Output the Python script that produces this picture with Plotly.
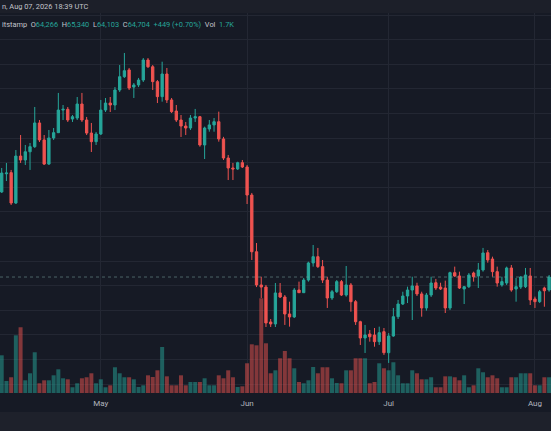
import pandas as pd
import plotly.graph_objects as go

# daily candles, Apr 10 .. Aug 4
opens = [71620, 73100, 73190, 70720, 74540, 74220, 74890, 75300, 77230, 75850,
         73890, 76010, 76440, 78280, 78340, 77550, 77630, 78770, 77470, 76410,
         75710, 76330, 78280, 78850, 78690, 79910, 80990, 81540, 80150, 80320,
         80720, 82350, 81800, 80590, 79370, 81210, 79100, 78200, 77470, 76980,
         76820, 77630, 77740, 75440, 76740, 77070, 77330, 75930, 74380, 73570,
         73490, 74000, 73650, 71370, 66760, 64060, 63890, 61050, 60890, 63410,
         63080, 61700, 61460, 63650, 63430, 64460, 65850, 66360, 65550, 64460,
         63000, 63510, 64330, 63240, 64060, 62700, 61070, 59750, 60070, 59990,
         59450, 60260, 58550, 59910, 61480, 62510, 63160, 63650, 63980, 63330,
         62190, 63240, 64240, 63890, 63810, 62190, 65060, 64790, 63730, 63920,
         65030, 64790, 65280, 66680, 66170, 65140, 64060, 64220, 65440, 63730,
         63890, 63920, 64790, 62920, 62700, 63810, 63650]
highs = [73570, 73980, 73410, 75030, 76250, 75440, 75600, 78530, 77470, 76250,
         76660, 76820, 79670, 78690, 78530, 77880, 79340, 79670, 77720, 77230,
         76500, 79100, 79260, 79340, 80150, 81940, 82920, 81700, 80480, 80890,
         82510, 82510, 81940, 80720, 82210, 81700, 79260, 78690, 77880, 77310,
         77880, 78370, 77800, 76930, 77470, 77630, 78150, 76100, 74630, 73980,
         74080, 74220, 73810, 71540, 67470, 64730, 64060, 61290, 64220, 64220,
         63240, 62700, 63810, 64330, 64630, 65950, 67310, 67070, 66090, 64730,
         63650, 64460, 64460, 65600, 64220, 62840, 61150, 60810, 60400, 60560,
         60670, 60560, 60150, 62190, 62840, 63510, 63920, 64730, 64240, 63510,
         63410, 64730, 64550, 64240, 64410, 65140, 65550, 65140, 63980, 65030,
         65140, 65850, 67070, 66900, 66360, 65550, 64730, 65550, 65680, 64630,
         64790, 65440, 65440, 63110, 63650, 63920, 64870]
lows = [71540, 72510, 70560, 70640, 73980, 73810, 73410, 75200, 75680, 73810,
        73810, 75850, 76410, 77470, 77310, 77310, 77470, 77310, 76250, 74870,
        75440, 76250, 78120, 78120, 78280, 79750, 80890, 79910, 79260, 80150,
        80560, 81700, 79910, 78850, 78960, 78850, 78040, 77310, 76090, 76250,
        76660, 77310, 75300, 74300, 76520, 76520, 75710, 74220, 72590, 72590,
        73410, 73570, 70640, 66090, 63890, 63000, 60640, 60640, 60640, 63000,
        60810, 60670, 61370, 63410, 63410, 64330, 65550, 65440, 64220, 62190,
        62840, 63410, 63160, 63110, 61890, 60810, 59180, 58530, 59450, 59040,
        59180, 58370, 57720, 59850, 61290, 62430, 62590, 61210, 63160, 61480,
        61970, 63080, 63650, 63650, 61780, 62020, 64710, 63730, 62510, 63810,
        64330, 63810, 65140, 65870, 64730, 63920, 63920, 64060, 63510, 62700,
        63730, 63810, 62430, 62190, 62590, 62290, 63510]
closes = [73160, 73160, 70720, 74540, 74220, 74890, 75300, 77230, 75850, 73890,
          76010, 76440, 78280, 78340, 77470, 77740, 78770, 77470, 76410, 75710,
          76330, 78280, 78850, 78690, 79910, 80990, 81480, 80070, 80320, 80720,
          82350, 81800, 80590, 79370, 81210, 79100, 78150, 77470, 76980, 76820,
          77630, 77740, 75440, 76820, 77070, 77330, 75930, 74380, 73570, 73490,
          74000, 73650, 71370, 66760, 64060, 63890, 60970, 60890, 63410, 63080,
          61700, 61460, 63650, 63430, 64460, 65850, 66360, 65550, 64460, 63000,
          63510, 64330, 63240, 64060, 62700, 61070, 59750, 59990, 59850, 59450,
          60180, 58550, 59910, 61480, 62510, 63160, 63650, 63980, 63330, 62190,
          63240, 64220, 63810, 63730, 62190, 65060, 64790, 63810, 63920, 64870,
          64730, 65280, 66660, 66090, 65140, 64220, 64330, 65440, 63650, 63920,
          64710, 64870, 62840, 62700, 63510, 63590, 64704]
volumes = [4070, 1300, 1700, 6230, 7100, 1370, 2130, 4400, 1050, 1370,
           1370, 1910, 2560, 1590, 1480, 620, 1050, 1590, 1700, 2130,
           1050, 1480, 620, 830, 2780, 2130, 1700, 1700, 1480, 650,
           830, 1910, 1730, 2450, 4970, 1800, 830, 830, 1910, 830,
           1190, 1190, 1190, 1590, 830, 830, 1910, 1590, 2450, 1700,
           650, 720, 3210, 5260, 5150, 10230, 5370, 2130, 2450, 3750,
           4540, 3750, 2670, 1190, 1050, 1370, 2810, 2130, 2780, 2780,
           1590, 1080, 1050, 2450, 2450, 3750, 3750, 3750, 1050, 1190,
           3210, 2670, 2450, 3320, 1910, 1050, 1050, 2450, 2130, 1480,
           1480, 1700, 620, 620, 1800, 1800, 1700, 1370, 1910, 620,
           830, 2670, 2240, 1700, 1910, 1590, 620, 620, 1700, 1700,
           2130, 2130, 2130, 830, 830, 1700, 1700]

dates = pd.date_range("2026-04-10", periods=len(opens), freq="D")

# header (last bar)
hdr_time = "n, Aug 07, 2026 18:39 UTC"
hdr_o, hdr_h, hdr_l, hdr_c = "64,266", "65,340", "64,103", "64,704"
hdr_chg = "+449 (+0.70%)"
hdr_vol = "1.7K"
last_close = 64704

UP = "#26a69a"
DOWN = "#ef5350"
BG = "#161a25"
GRID = "#232733"

vol_colors = ["rgba(38,166,154,0.5)" if c >= o else "rgba(239,83,80,0.5)"
              for o, c in zip(opens, closes)]

fig = go.Figure()

fig.add_trace(go.Bar(
    x=dates, y=volumes,
    marker=dict(color=vol_colors, line=dict(width=0)),
    yaxis="y", hoverinfo="skip", showlegend=False,
))

fig.add_trace(go.Candlestick(
    x=dates, open=opens, high=highs, low=lows, close=closes,
    increasing=dict(line=dict(color=UP, width=1), fillcolor=UP),
    decreasing=dict(line=dict(color=DOWN, width=1), fillcolor=DOWN),
    whiskerwidth=0,
    yaxis="y2", showlegend=False,
))

# last price line
fig.add_shape(type="line", xref="paper", x0=0, x1=1, yref="y2",
              y0=last_close, y1=last_close,
              line=dict(color="rgba(120,160,155,0.55)", width=1, dash="dot"))

# top header strip and bottom strip
fig.add_shape(type="rect", xref="paper", yref="paper", x0=0, x1=1,
              y0=1.0, y1=1.04, fillcolor="#1c1f29", line_width=0, layer="below")
fig.add_shape(type="rect", xref="paper", yref="paper", x0=0, x1=1,
              y0=-0.12, y1=-0.05, fillcolor="#1e212b", line_width=0, layer="below")

fig.add_annotation(
    text=hdr_time, xref="paper", yref="paper", x=0, y=1.0165,
    xanchor="left", yanchor="middle", showarrow=False,
    font=dict(size=7.4, color="#c3c5cc"),
)
t = lambda s: f"<span style='color:{UP}'>{s}</span>"
line2 = ("itstamp&nbsp;&nbsp;O" + t(hdr_o) + "&nbsp;&nbsp;H" + t(hdr_h)
         + "&nbsp;&nbsp;L" + t(hdr_l) + "&nbsp;&nbsp;C" + t(hdr_c)
         + "&nbsp;&nbsp;" + t(hdr_chg) + "&nbsp;&nbsp;Vol&nbsp;&nbsp;" + t(hdr_vol))
fig.add_annotation(
    text=line2, xref="paper", yref="paper", x=0, y=0.97,
    xanchor="left", yanchor="middle", showarrow=False,
    font=dict(size=7.4, color="#c3c5cc"),
)

fig.update_layout(
    width=551, height=431,
    margin=dict(l=0, r=0, t=13, b=38),
    paper_bgcolor=BG, plot_bgcolor=BG,
    font=dict(family="Roboto, sans-serif", color="#b2b5be"),
    bargap=0.15,
    showlegend=False,
    xaxis=dict(
        type="date",
        range=["2026-04-09 15:20", "2026-08-04 09:40"],
        rangeslider=dict(visible=False),
        dtick="M1", tickformat="%b",
        showgrid=True, gridcolor=GRID, gridwidth=1,
        zeroline=False, showline=False,
        ticks="outside", ticklen=2, tickcolor=BG,
        tickfont=dict(size=8, color="#b2b5be"),
    ),
    yaxis=dict(
        range=[0, 41040], showgrid=False, zeroline=False,
        showticklabels=False, fixedrange=True,
    ),
    yaxis2=dict(
        overlaying="y", range=[55276, 86170],
        dtick=2000, tick0=0,
        showgrid=True, gridcolor=GRID, gridwidth=1,
        zeroline=False, showticklabels=False,
    ),
)

fig.write_html("out.html", config={"displayModeBar": False})

# drop the browser's default page margin so the figure sits at 0,0
with open("out.html", encoding="utf-8") as f:
    html = f.read()
html = html.replace("<body>", "<body style=\"margin:0;background:#161a25\">", 1)
with open("out.html", "w", encoding="utf-8") as f:
    f.write(html)
